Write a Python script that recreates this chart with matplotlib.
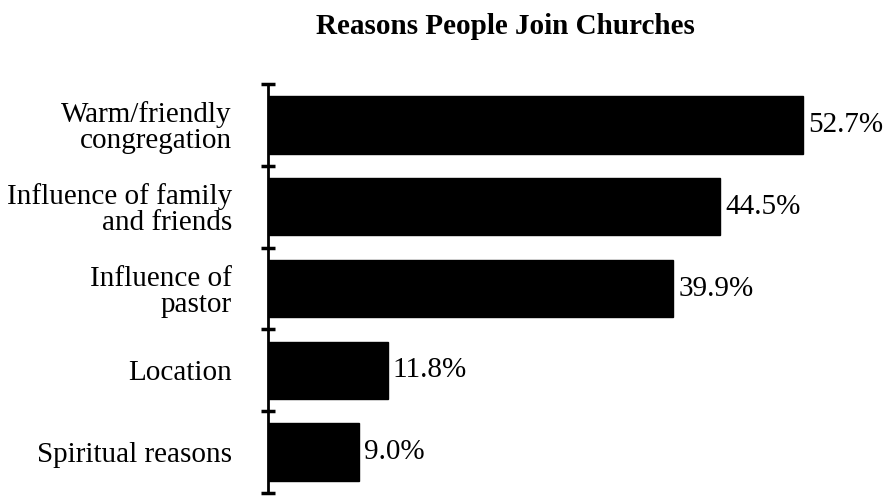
import matplotlib
matplotlib.use("Agg")
import matplotlib.pyplot as plt
import numpy as np

categories = ["Warm/friendly\ncongregation", "Influence of family\nand friends",
              "Influence of\npastor", "Location", "Spiritual reasons"]
values = [52.7, 44.5, 39.9, 11.8, 9.0]
value_labels = ["52.7%", "44.5%", "39.9%", "11.8%", "9.0%"]
title = "Reasons People Join Churches"

plt.rcParams['font.family'] = ['Liberation Serif', 'DejaVu Serif']

fig = plt.figure(figsize=(8.87, 4.96), dpi=100)
ax = fig.add_axes([268/887, 1 - 493/496, 1 - 268/887, (493 - 84)/496])

n = len(categories)
pos = np.arange(n)
ax.barh(pos, values, height=0.7, color="black", edgecolor="black")
ax.set_ylim(n - 0.5, -0.5)
ax.set_xlim(0, (887 - 268) / 10.16)

for p, v, lab in zip(pos, values, value_labels):
    ax.annotate(lab, (v, p), xytext=(3.5, 0), textcoords="offset points",
                va="center", ha="left", fontsize=21)

ax.set_yticks(pos)
ax.set_yticklabels(categories, fontsize=21, ha="right", multialignment="right",
                   linespacing=1.0)
ax.tick_params(axis="y", which="major", length=0, pad=26)
ax.set_yticks(np.arange(-0.5, n, 1.0), minor=True)
ax.tick_params(axis="y", which="minor", direction="inout", length=10, width=2.5)
ax.set_xticks([])
for s in ["top", "right", "bottom"]:
    ax.spines[s].set_visible(False)
ax.spines["left"].set_linewidth(2)

fig.text(505/887, 1 - 26/496, title, ha="center", va="center",
         fontsize=21, fontweight="bold")

fig.savefig("out.png", dpi=100)
